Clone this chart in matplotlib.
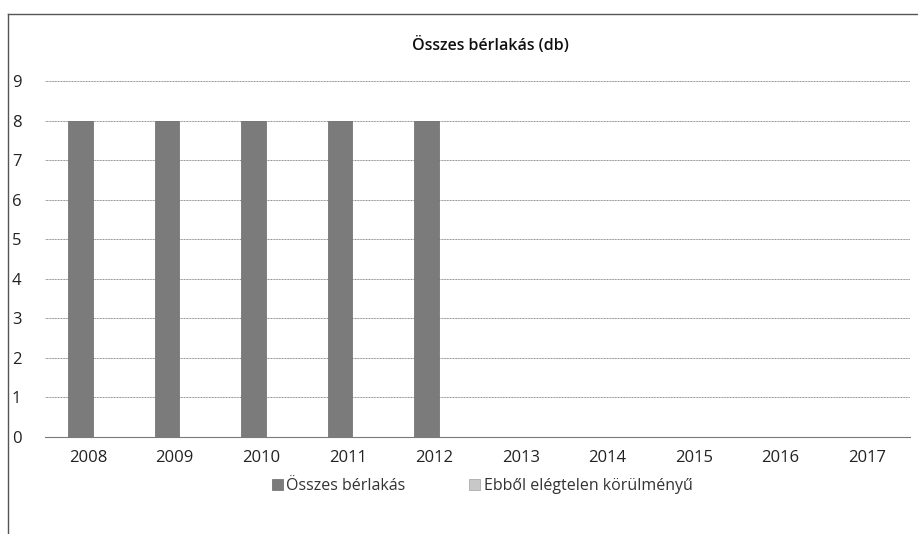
import numpy as np
import matplotlib.pyplot as plt
from matplotlib.lines import Line2D

years = ['2008', '2009', '2010', '2011', '2012', '2013', '2014', '2015', '2016', '2017']
osszes = [8, 8, 8, 8, 8, 0, 0, 0, 0, 0]
elegtelen = [0, 0, 0, 0, 0, 0, 0, 0, 0, 0]
yticks = [0, 1, 2, 3, 4, 5, 6, 7, 8, 9]

plt.rcParams['font.family'] = ['Open Sans', 'DejaVu Sans']

fig = plt.figure(figsize=(9.18, 5.34), dpi=100)
ax = fig.add_axes([45 / 918, 1 - 437 / 534, 865 / 918, (437 - 81) / 534])

x = np.arange(len(years))
ax.bar(x - 0.09, osszes, width=0.28, color='#7b7b7b', edgecolor='#6a6a6a', linewidth=0.5,
       label='Összes bérlakás', zorder=3)
ax.bar(x + 0.19, elegtelen, width=0.28, color='#c8c8c8', edgecolor='#a0a0a0', linewidth=0.5,
       label='Ebből elégtelen körülményű', zorder=3)

ax.set_xlim(-0.5, len(years) - 0.5)
ax.set_ylim(0, 9)
ax.set_yticks(yticks)
ax.set_xticks(x)
ax.set_xticklabels(years)
ax.yaxis.grid(True, color='#8a8a8a', linewidth=0.7, linestyle=(0, (1, 0.6)))
ax.set_axisbelow(True)
for s in ['top', 'right', 'left']:
    ax.spines[s].set_visible(False)
ax.spines['bottom'].set_color('#7a7a7a')
ax.spines['bottom'].set_linewidth(0.8)
ax.tick_params(axis='y', length=0, pad=17, labelsize=12, colors='#222222')
ax.tick_params(axis='x', length=0, pad=9, labelsize=12, colors='#222222')

fig.text(490 / 918, 1 - 45 / 534, 'Összes bérlakás (db)', ha='center', va='center',
         fontsize=11.5, fontweight='semibold', color='#111111')

leg = ax.legend(loc='center', bbox_to_anchor=(482 / 918, 1 - 486 / 534),
                bbox_transform=fig.transFigure, ncol=2, frameon=False, fontsize=11.5,
                handlelength=0.7, handleheight=0.7, handletextpad=0.2, columnspacing=4.0)
for t in leg.get_texts():
    t.set_color('#333333')

# chart frame: only top and left edges are visible in the scan
fig.lines.append(Line2D([8 / 918, 1], [1 - 14 / 534, 1 - 14 / 534], transform=fig.transFigure,
                        color='#555555', linewidth=1.0))
fig.lines.append(Line2D([8 / 918, 8 / 918], [0, 1 - 14 / 534], transform=fig.transFigure,
                        color='#555555', linewidth=1.0))

fig.savefig('out.png', dpi=100)
